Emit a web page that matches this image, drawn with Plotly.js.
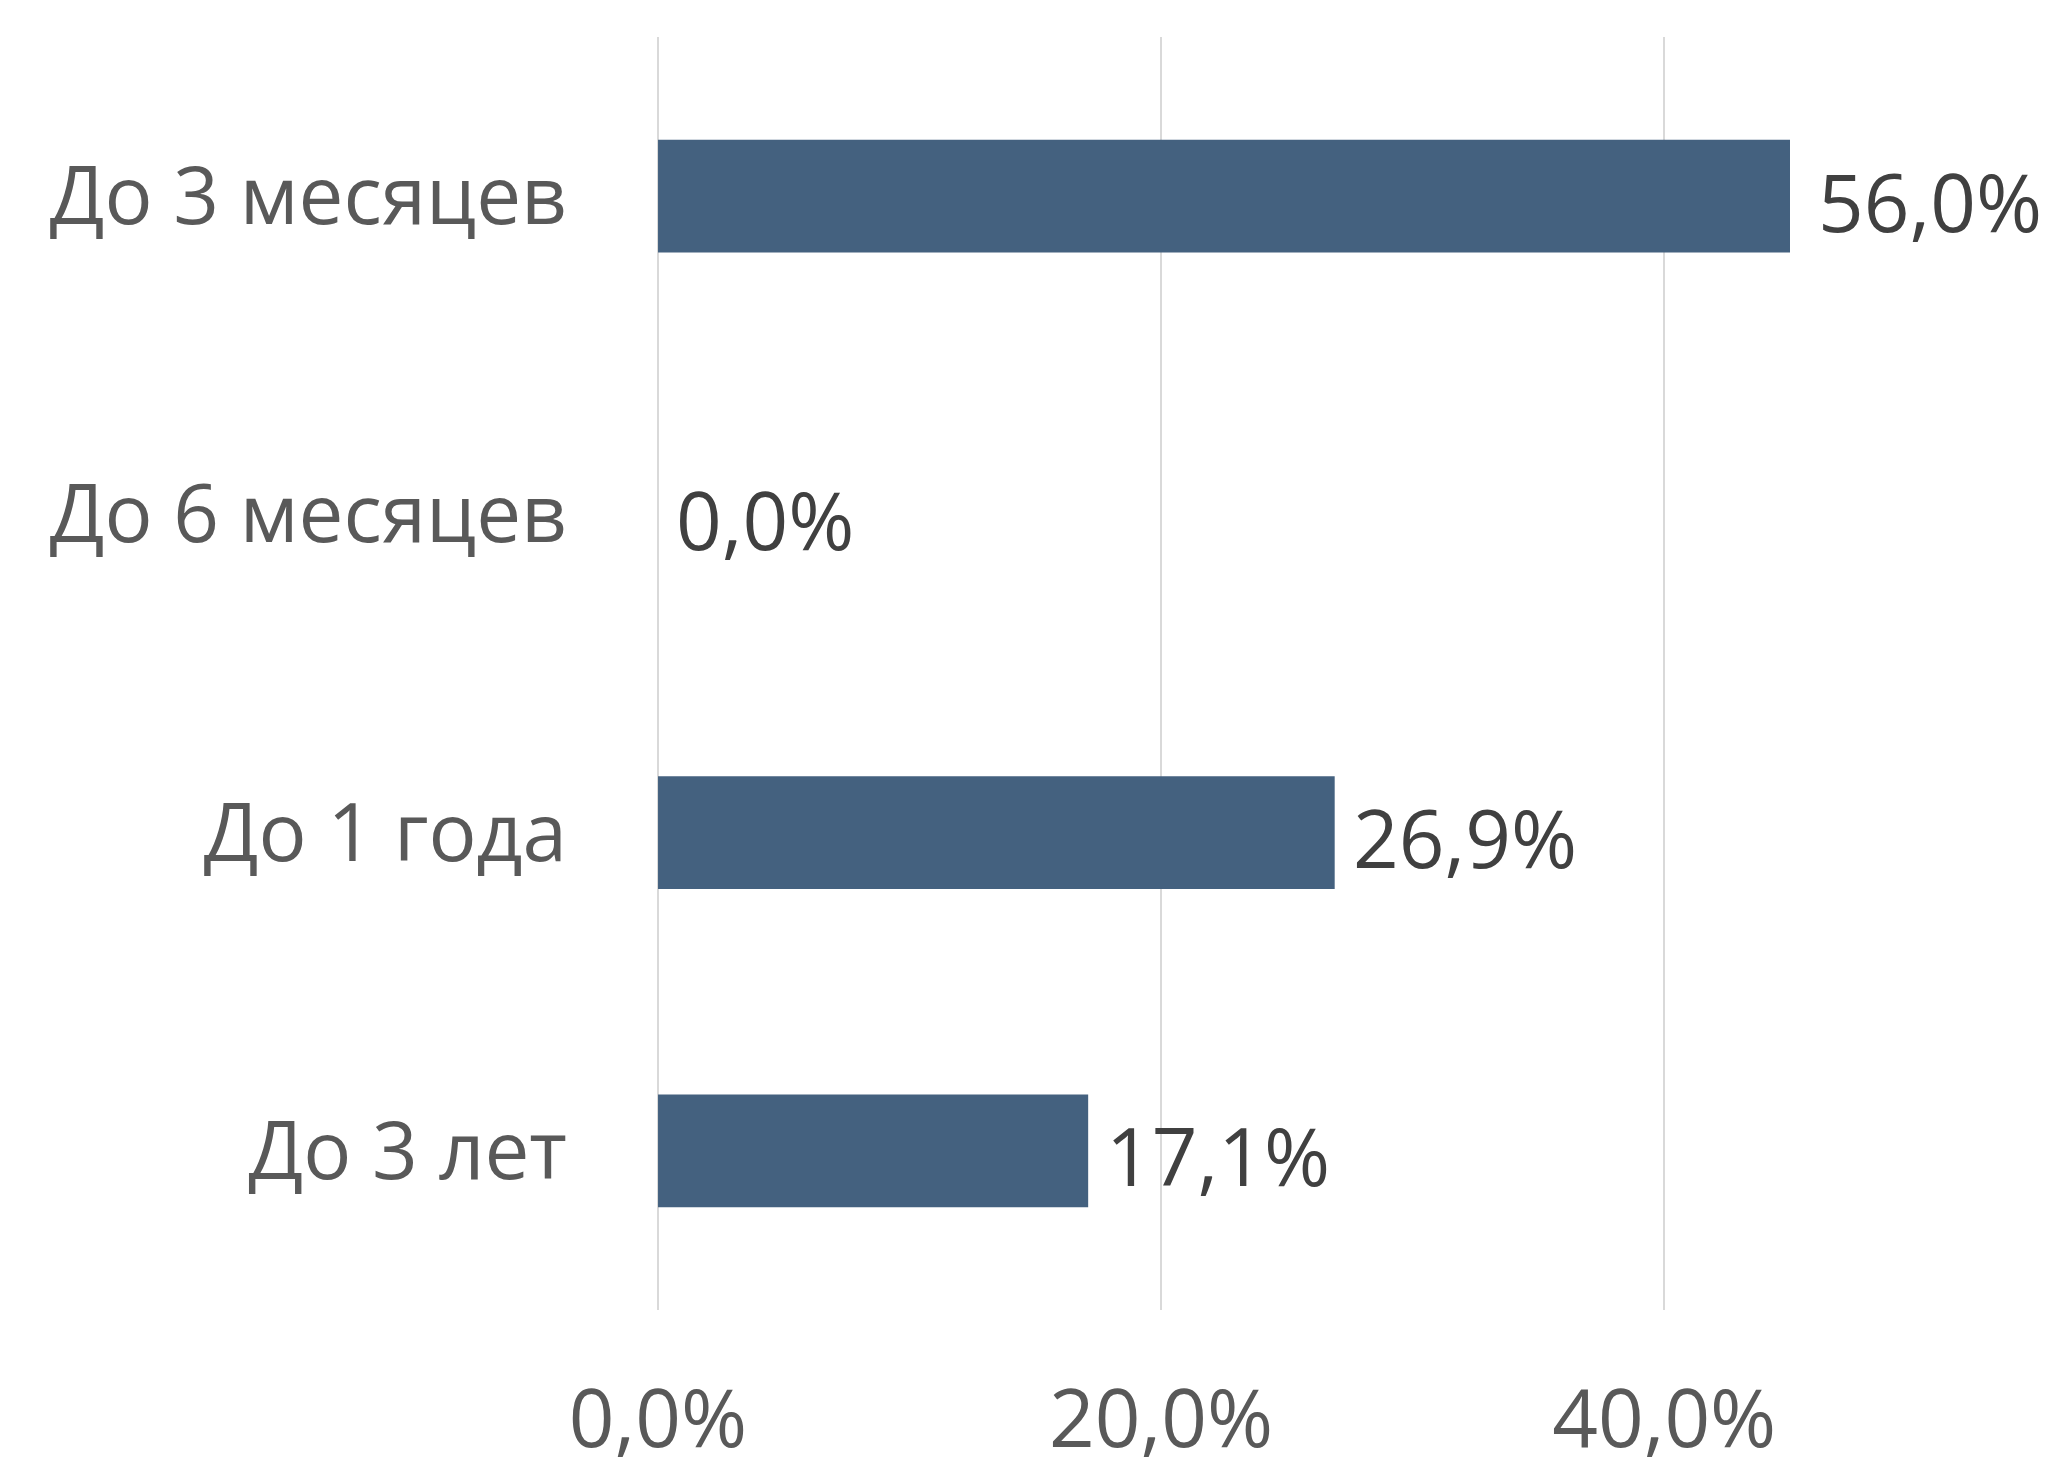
<!DOCTYPE html>
<html>
<head>
<meta charset="utf-8">
<script src="https://cdn.plot.ly/plotly-3.0.1.min.js"></script>
<style>html,body{margin:0;padding:0;background:#fff;}#chart{width:2051px;height:1470px;}</style>
</head>
<body>
<div id="chart"></div>
<script>
const categories = ["До 3 месяцев", "До 6 месяцев", "До 1 года", "До 3 лет"];
const values = [0.560, 0.000, 0.269, 0.171];
const valueLabels = ["56,0%", "0,0%", "26,9%", "17,1%"];
const tickValues = [0, 0.2, 0.4];
const tickLabels = ["0,0%", "20,0%", "40,0%"];
const xMax = 0.45;

const FONT = "'Open Sans', 'Noto Sans', sans-serif";

const trace = {
  type: 'bar',
  orientation: 'h',
  y: categories,
  x: values,
  marker: {color: '#44617F', line: {width: 0}},
  hoverinfo: 'none'
};

const annotations = categories.map((c, i) => ({
  x: Math.min(values[i], xMax),
  y: c,
  xref: 'x', yref: 'y',
  text: valueLabels[i],
  showarrow: false,
  xanchor: 'left',
  yanchor: 'middle',
  xshift: values[i] > xMax ? 26 : 16,
  yshift: -4,
  font: {family: FONT, size: 80, color: '#404040'}
}));

const layout = {
  width: 2051, height: 1470,
  margin: {l: 655, r: 261, t: 37, b: 160},
  paper_bgcolor: '#ffffff',
  plot_bgcolor: '#ffffff',
  bargap: 0.645,
  showlegend: false,
  xaxis: {
    range: [-0.0012, xMax],
    tickvals: tickValues,
    ticktext: tickLabels,
    showgrid: true,
    gridcolor: '#D9D9D9',
    gridwidth: 2,
    zeroline: false,
    showline: false,
    ticks: '',
    ticklabelstandoff: 56,
    tickfont: {family: FONT, size: 80, color: '#595959'},
    fixedrange: true
  },
  yaxis: {
    autorange: 'reversed',
    showgrid: false,
    zeroline: false,
    showline: false,
    ticks: '',
    ticklabelstandoff: 87,
    tickfont: {family: FONT, size: 80, color: '#595959'},
    fixedrange: true
  },
  annotations: annotations
};

Plotly.newPlot('chart', [trace], layout, {displayModeBar: false, staticPlot: true});
</script>
</body>
</html>
